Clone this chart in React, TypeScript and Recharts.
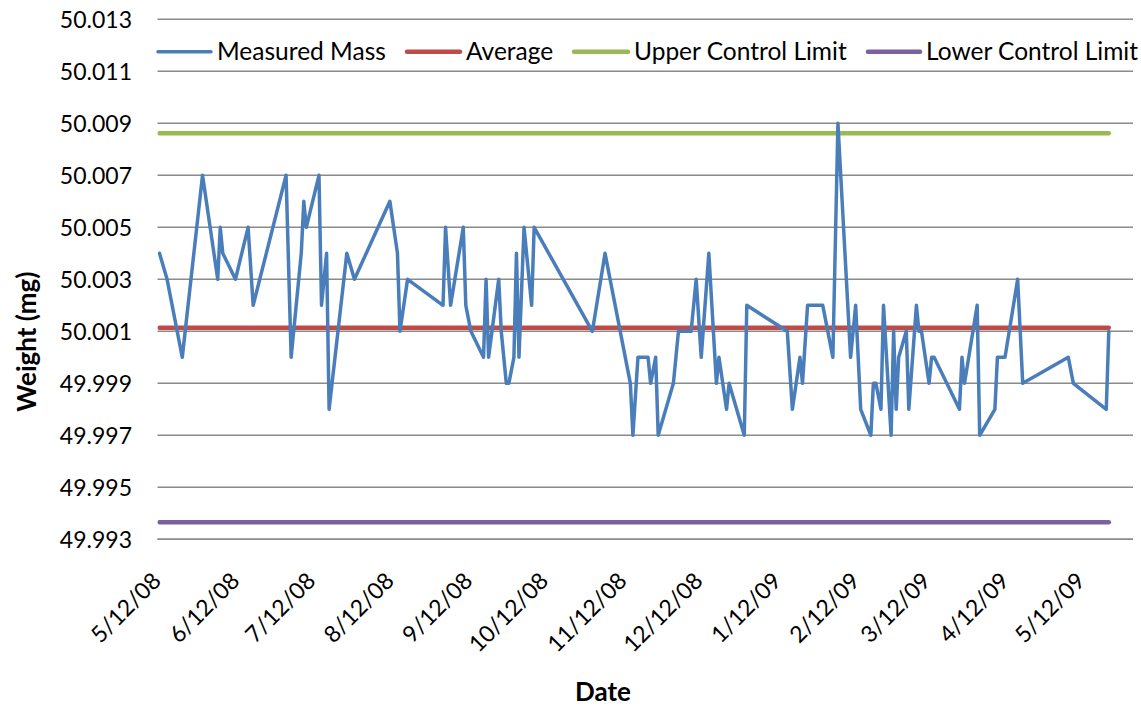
import React from 'react';
import { LineChart, Line, XAxis, YAxis, CartesianGrid, Legend } from 'recharts';

// Days since 5/12/08 for each measurement
const measureDays = [
  0, 3, 9, 17, 23, 24, 25, 30, 35, 37, 50, 52, 56, 57, 58, 63, 64, 66, 67, 74,
  77, 91, 94, 95, 98, 112, 113, 115, 120, 121, 123, 128, 129, 130, 134, 135, 137, 138, 140, 141,
  142, 144, 147, 148, 171, 176, 186, 187, 189, 193, 194, 196, 197, 203, 205, 210, 212, 214, 217, 220,
  221, 224, 225, 231, 232, 248, 250, 253, 254, 256, 262, 266, 268, 273, 275, 277, 281, 282, 283, 285,
  286, 289, 290, 291, 292, 295, 296, 299, 300, 301, 304, 305, 306, 316, 317, 318, 323, 324, 330, 331,
  334, 339, 341, 359, 361, 374, 375,
];

const measuredMass = [
  50.004, 50.003, 50.0, 50.007, 50.003, 50.005, 50.004, 50.003, 50.005, 50.002, 50.007, 50.0, 50.004, 50.006, 50.005, 50.007, 50.002, 50.004, 49.998, 50.004,
  50.003, 50.006, 50.004, 50.001, 50.003, 50.002, 50.005, 50.002, 50.005, 50.002, 50.001, 50.0, 50.003, 50.0, 50.003, 50.001, 49.999, 49.999, 50.0, 50.004,
  50.0, 50.005, 50.002, 50.005, 50.001, 50.004, 49.999, 49.997, 50.0, 50.0, 49.999, 50.0, 49.997, 49.999, 50.001, 50.001, 50.003, 50.0, 50.004, 49.999,
  50.0, 49.998, 49.999, 49.997, 50.002, 50.001, 49.998, 50.0, 49.999, 50.002, 50.002, 50.0, 50.009, 50.0, 50.002, 49.998, 49.997, 49.999, 49.999, 49.998,
  50.002, 49.997, 50.001, 49.998, 50.0, 50.001, 49.998, 50.002, 50.001, 50.001, 49.999, 50.0, 50.0, 49.998, 50.0, 49.999, 50.002, 49.997, 49.998, 50.0,
  50.0, 50.003, 49.999, 50.0, 49.999, 49.998, 50.001,
];

const averageMass = 50.00114;
const upperControlLimit = 50.00862;
const lowerControlLimit = 49.99366;

const yTicks = [49.993, 49.995, 49.997, 49.999, 50.001, 50.003, 50.005, 50.007, 50.009, 50.011, 50.013];
const xTickDays = [0, 31, 61, 92, 123, 153, 184, 214, 245, 276, 304, 335, 365];
const xTickLabels = ['5/12/08', '6/12/08', '7/12/08', '8/12/08', '9/12/08', '10/12/08', '11/12/08', '12/12/08', '1/12/09', '2/12/09', '3/12/09', '4/12/09', '5/12/09'];

const seriesNames = ['Measured Mass', 'Average', 'Upper Control Limit', 'Lower Control Limit'];
const seriesColors = ['#4A7EBB', '#BE4B48', '#98B954', '#7D60A0'];

const data = measureDays.map((d, i) => ({
  day: d,
  mass: measuredMass[i],
  avg: averageMass,
  ucl: upperControlLimit,
  lcl: lowerControlLimit,
}));

const FONT = 'Lato, "Open Sans", sans-serif';

const XTick = (props: any) => {
  const { x, y, payload } = props;
  const idx = xTickDays.indexOf(payload.value);
  const label = idx >= 0 ? xTickLabels[idx] : '';
  const tx = x + 3;
  const ty = y + 43;
  return (
    <text x={tx} y={ty} textAnchor="end" fontFamily={FONT} fontSize={23} fill="#000" transform={`rotate(-45, ${tx}, ${ty})`}>
      {label}
    </text>
  );
};

const YTick = (props: any) => {
  const { x, y, payload } = props;
  return (
    <text x={x - 25.5} y={y} dy="0.36em" textAnchor="end" fontFamily={FONT} fontSize={23} fill="#000">
      {Number(payload.value).toFixed(3)}
    </text>
  );
};

const legendLayout = [
  { lineStart: 158, lineEnd: 211 },
  { lineStart: 407, lineEnd: 460 },
  { lineStart: 574, lineEnd: 628 },
  { lineStart: 868, lineEnd: 920 },
];

const renderLegend = () => (
  <svg width={1141} height={80} style={{ display: 'block' }}>
    {seriesNames.map((name, i) => (
      <g key={name}>
        <line x1={legendLayout[i].lineStart} x2={legendLayout[i].lineEnd} y1={51.7} y2={51.7} stroke={seriesColors[i]} strokeWidth={i === 0 ? 3.5 : 4.5} strokeLinecap="round" />
        <text x={legendLayout[i].lineEnd + 6} y={59.5} fontFamily={FONT} fontSize={24.5} fill="#000">
          {name}
        </text>
      </g>
    ))}
  </svg>
);

export default function App() {
  return (
    <div style={{ position: 'absolute', left: 0, top: 0, width: 1141, height: 709, background: '#fff' }}>
      <LineChart width={1141} height={709} data={data} margin={{ top: 19.3, right: 8, bottom: 69.7, left: 0 }}>
        <CartesianGrid vertical={false} stroke="#8a8a8a" strokeWidth={1.5} />
        <XAxis
          dataKey="day"
          type="number"
          domain={[-0.79, 384.56]}
          ticks={xTickDays}
          interval={0}
          allowDataOverflow
          tickLine={false}
          tickSize={0}
          tickMargin={0}
          axisLine={{ stroke: '#8a8a8a', strokeWidth: 1.5 }}
          tick={<XTick />}
          height={100}
        />
        <YAxis
          type="number"
          domain={[49.993, 50.013]}
          ticks={yTicks}
          interval={0}
          allowDataOverflow
          width={157.5}
          tickLine={false}
          tickSize={0}
          tickMargin={0}
          axisLine={false}
          tick={<YTick />}
        />
        <Legend
          layout="horizontal"
          verticalAlign="middle"
          align="center"
          content={renderLegend}
          wrapperStyle={{ top: 0, left: 0, width: 1141, height: 80 }}
        />
        <Line dataKey="avg" name={seriesNames[1]} stroke={seriesColors[1]} strokeWidth={4.5} dot={false} isAnimationActive={false} strokeLinecap="round" />
        <Line dataKey="ucl" name={seriesNames[2]} stroke={seriesColors[2]} strokeWidth={4.5} dot={false} isAnimationActive={false} strokeLinecap="round" />
        <Line dataKey="lcl" name={seriesNames[3]} stroke={seriesColors[3]} strokeWidth={4.5} dot={false} isAnimationActive={false} strokeLinecap="round" />
        <Line dataKey="mass" name={seriesNames[0]} stroke={seriesColors[0]} strokeWidth={3.5} dot={false} isAnimationActive={false} strokeLinecap="round" strokeLinejoin="round" />
      </LineChart>
      <svg width={1141} height={709} style={{ position: 'absolute', left: 0, top: 0, pointerEvents: 'none' }}>
        <text x={36} y={341.7} textAnchor="middle" fontFamily={FONT} fontWeight="bold" fontSize={26} fill="#000" transform="rotate(-90, 36, 341.7)">
          Weight (mg)
        </text>
        <text x={603} y={701} textAnchor="middle" fontFamily={FONT} fontWeight="bold" fontSize={26} fill="#000">
          Date
        </text>
      </svg>
    </div>
  );
}
